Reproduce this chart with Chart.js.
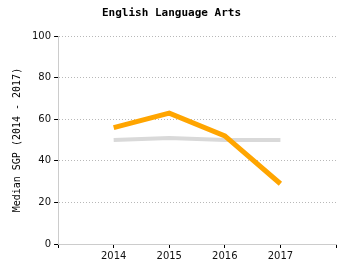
<!DOCTYPE html>
<html>
<head>
<meta charset="utf-8">
<script src="https://cdn.jsdelivr.net/npm/chart.js@4"></script>
<style>
  html, body { margin: 0; padding: 0; background: #fff; }
  #wrap { width: 350px; height: 275px; }
</style>
</head>
<body>
<div id="wrap"><canvas id="chart"></canvas></div>
<script>
const years = [2014, 2015, 2016, 2017];
const schoolSgp = [56, 63, 52, 29];
const stateSgp = [50, 51, 50, 50];
const yTicks = [0, 20, 40, 60, 80, 100];

function toPoints(values) {
    return years.map((yr, i) => ({ x: yr, y: values[i] }));
}

const tickFont = { family: 'DejaVu Sans', size: 10 };

new Chart(document.getElementById('chart'), {
    type: 'line',
    data: {
        datasets: [
            {
                label: 'School',
                data: toPoints(schoolSgp),
                borderColor: '#ffa500',
                borderWidth: 5,
                pointRadius: 0,
                tension: 0
            },
            {
                label: 'State',
                data: toPoints(stateSgp),
                borderColor: '#d9d9d9',
                borderWidth: 4,
                pointRadius: 0,
                tension: 0
            }
        ]
    },
    options: {
        responsive: true,
        maintainAspectRatio: false,
        animation: false,
        layout: { padding: { top: 1, right: 14, bottom: 11, left: 7 } },
        plugins: {
            legend: { display: false },
            tooltip: { enabled: false },
            title: {
                display: true,
                text: 'English Language Arts',
                color: '#000',
                font: { family: 'DejaVu Sans Mono', size: 11, weight: 'bold' },
                padding: { top: 6, bottom: 16 }
            }
        },
        scales: {
            x: {
                type: 'linear',
                min: 2013,
                max: 2018,
                border: { color: '#cccccc', width: 1 },
                grid: { drawOnChartArea: false, tickLength: 4, tickColor: '#000' },
                ticks: {
                    stepSize: 1,
                    color: '#111',
                    font: tickFont,
                    padding: 2,
                    callback: v => years.includes(v) ? String(v) : ''
                }
            },
            y: {
                min: 0,
                max: 100,
                afterBuildTicks: axis => { axis.ticks = yTicks.map(v => ({ value: v })); },
                border: { color: '#cccccc', width: 1, dash: [1, 2] },
                grid: {
                    color: '#b8b8b8',
                    tickLength: 4,
                    tickColor: '#000',
                    tickBorderDash: [4, 0]
                },
                ticks: { color: '#111', font: tickFont, padding: 3 },
                title: {
                    display: true,
                    text: 'Median SGP (2014 - 2017)',
                    color: '#000',
                    font: { family: 'DejaVu Sans Mono', size: 10 },
                    padding: { bottom: 6 }
                }
            }
        }
    }
});
</script>
</body>
</html>
